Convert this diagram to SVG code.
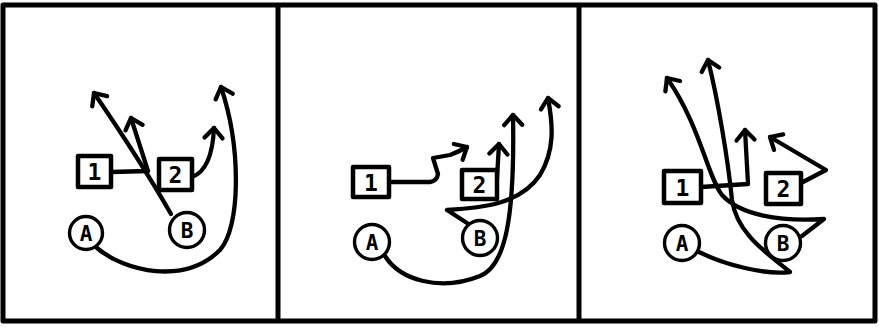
<svg xmlns="http://www.w3.org/2000/svg" width="879" height="327" viewBox="0 0 879 327">
<style>
.frame{fill:none;stroke:#000;stroke-width:5;stroke-linejoin:round}
.box{fill:#fff;stroke:#000;stroke-width:4.5;stroke-linejoin:round}
.ring{fill:#fff;stroke:#000;stroke-width:3.4}
.lbl{font-family:"DejaVu Sans Mono","Liberation Mono",monospace;font-weight:bold;font-size:23px;text-anchor:middle;fill:#000}
.clbl{font-family:"DejaVu Sans Mono","Liberation Mono",monospace;font-weight:bold;font-size:21px;text-anchor:middle;fill:#000}
.route{fill:none;stroke:#000;stroke-width:4.3;stroke-linecap:round;stroke-linejoin:round}
.arr{marker-end:url(#ah)}
</style>
<defs>
<marker id="ah" markerUnits="userSpaceOnUse" orient="auto" refX="0" refY="0" markerWidth="30" markerHeight="30" viewBox="-15 -15 30 30" overflow="visible">
<path d="M-10,-9 L0,0 L-10,9" fill="none" stroke="#000" stroke-width="4.3" stroke-linecap="round" stroke-linejoin="round"/>
</marker>
</defs>
<rect width="879" height="327" fill="#fff"/>
<g id="frame">
<rect class="frame" x="3" y="5" width="872" height="316"/>
<line class="frame" x1="278" y1="5" x2="278" y2="321"/>
<line class="frame" x1="579" y1="5" x2="579" y2="321"/>
</g>
<g id="connectors">
<path class="route arr" d="M111,172 L148,171 L131,118"/>
<path class="route arr" d="M171,214 Q140,160 94,93"/>
<path class="route arr" d="M192,177 Q212,170 214,128"/>
<path class="route arr" d="M97,248 C125,272 185,285 220,250 C240,228 242,150 221,87"/>
<path class="route arr" d="M389,182 L430,182 Q437,181 438,174 L433,158 L450,155 Q458,152 467,147"/>
<path class="route arr" d="M497,178 L499,144"/>
<path class="route arr" d="M385,256 C400,280 440,292 480,276 C505,266 515,220 513,115"/>
<path class="route arr" d="M467,223 L447,210 C480,208 520,205 540,175 C555,150 553,125 548,98"/>
<path class="route arr" d="M701,187 L748,184 L745,130"/>
<path class="route arr" d="M801,183 L826,170 L770,137"/>
<path class="route arr" d="M802,236 L824,219 C780,222 740,215 722,195 C708,178 700,125 667,78"/>
<path class="route arr" d="M699,252 C725,265 765,275 790,272 C770,255 737,235 732,200 C728,160 718,100 708,60"/>
</g>
<g id="p1-box1"><rect class="box" x="78" y="156" width="33" height="31"/><text class="lbl" x="94.5" y="180">1</text></g>
<g id="p1-box2"><rect class="box" x="159" y="159" width="33" height="31"/><text class="lbl" x="175.5" y="183">2</text></g>
<g id="p1-A"><circle class="ring" cx="86" cy="233" r="16.5"/><text class="clbl" x="86" y="240.5">A</text></g>
<g id="p1-B"><circle class="ring" cx="187" cy="230" r="17.5"/><text class="clbl" x="187" y="237.5">B</text></g>
<g id="p2-box1"><rect class="box" x="353" y="167" width="36" height="30"/><text class="lbl" x="371" y="190.5">1</text></g>
<g id="p2-box2"><rect class="box" x="462" y="170" width="35" height="29"/><text class="lbl" x="479.5" y="193">2</text></g>
<g id="p2-A"><circle class="ring" cx="372" cy="242" r="17.5"/><text class="clbl" x="372" y="249.5">A</text></g>
<g id="p2-B"><circle class="ring" cx="480" cy="238" r="17.5"/><text class="clbl" x="480" y="245.5">B</text></g>
<g id="p3-box1"><rect class="box" x="664" y="171" width="37" height="32"/><text class="lbl" x="682.5" y="195.5">1</text></g>
<g id="p3-box2"><rect class="box" x="766" y="173" width="35" height="31"/><text class="lbl" x="783.5" y="197">2</text></g>
<g id="p3-A"><circle class="ring" cx="682" cy="243" r="17.5"/><text class="clbl" x="682" y="250.5">A</text></g>
<g id="p3-B"><circle class="ring" cx="783" cy="243" r="17.5"/><text class="clbl" x="783" y="250.5">B</text></g>
</svg>
